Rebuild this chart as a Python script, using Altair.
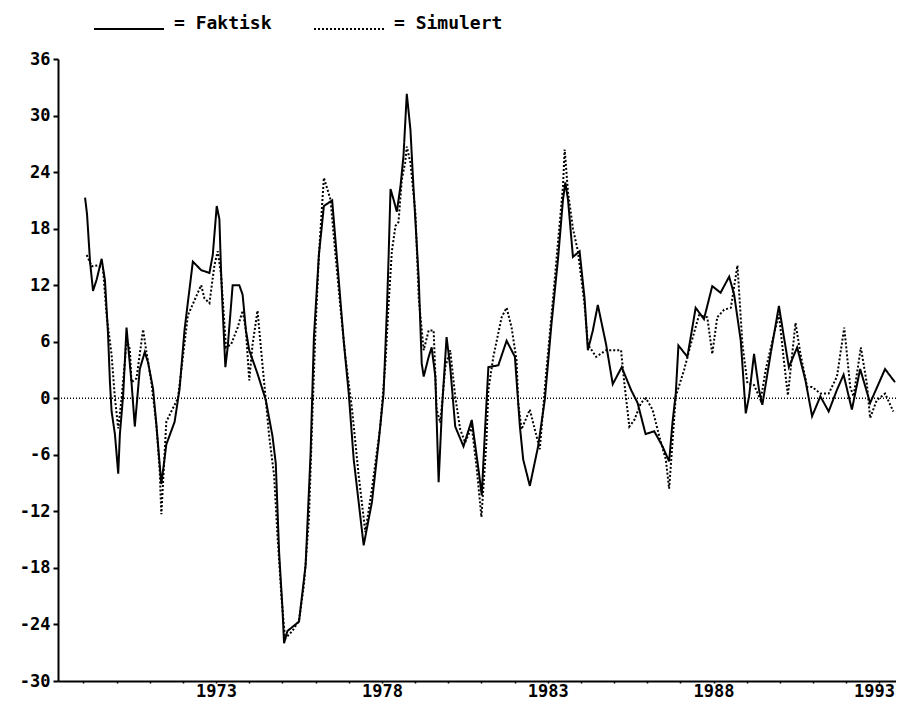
import altair as alt
import pandas as pd

# Faktisk (actual) series: decimal year and value
fakt_year = [1969.05, 1969.11, 1969.20, 1969.29, 1969.40, 1969.55, 1969.65, 1969.74, 1969.80, 1969.85,
             1969.95, 1970.05, 1970.10, 1970.20, 1970.30, 1970.45, 1970.55, 1970.70, 1970.85, 1970.95,
             1971.10, 1971.20, 1971.35, 1971.50, 1971.75, 1971.90, 1972.05, 1972.30, 1972.55, 1972.80,
             1972.90, 1973.02, 1973.10, 1973.15, 1973.20, 1973.28, 1973.35, 1973.50, 1973.70, 1973.80,
             1973.90, 1974.00, 1974.25, 1974.50, 1974.70, 1974.80, 1974.90, 1975.00, 1975.05, 1975.15,
             1975.50, 1975.70, 1975.85, 1975.95, 1976.10, 1976.25, 1976.50, 1976.70, 1976.85, 1977.00,
             1977.15, 1977.45, 1977.70, 1977.90, 1978.05, 1978.15, 1978.20, 1978.26, 1978.35, 1978.45,
             1978.56, 1978.65, 1978.75, 1978.86, 1978.95, 1979.11, 1979.20, 1979.26, 1979.41, 1979.50,
             1979.61, 1979.71, 1979.81, 1979.95, 1980.06, 1980.21, 1980.46, 1980.71, 1980.91, 1981.01,
             1981.11, 1981.21, 1981.51, 1981.76, 1982.01, 1982.16, 1982.26, 1982.46, 1982.71, 1982.91,
             1983.11, 1983.31, 1983.46, 1983.53, 1983.61, 1983.76, 1983.96, 1984.11, 1984.21, 1984.36,
             1984.51, 1984.76, 1984.96, 1985.23, 1985.51, 1985.71, 1985.95, 1986.21, 1986.46, 1986.66,
             1986.76, 1986.86, 1986.94, 1987.21, 1987.46, 1987.71, 1987.96, 1988.21, 1988.47, 1988.62,
             1988.82, 1988.97, 1989.07, 1989.22, 1989.37, 1989.47, 1989.72, 1989.97, 1990.12, 1990.27,
             1990.52, 1990.77, 1990.97, 1991.22, 1991.47, 1991.72, 1991.92, 1992.17, 1992.42, 1992.72,
             1993.17, 1993.47]
fakt_val = [21.3, 19.5, 14.5, 11.4, 12.6, 14.8, 12.5, 7.0, 1.7, -1.4,
            -3.8, -8.0, -3.8, 0.4, 7.5, 1.7, -3.0, 3.1, 4.9, 3.8,
            1.0, -2.8, -9.1, -4.9, -2.5, 1.0, 7.3, 14.5, 13.6, 13.3,
            15.2, 20.4, 19.0, 13.5, 9.3, 3.3, 5.4, 12.0, 12.0, 11.0,
            7.2, 5.1, 2.6, -0.2, -4.0, -6.9, -16.3, -22.2, -26.0, -24.7,
            -23.7, -17.7, -5.8, 6.5, 15.2, 20.4, 21.0, 12.5, 6.0, 0.5,
            -6.5, -15.6, -11.0, -4.7, 0.5, 9.3, 14.8, 22.2, 21.1, 19.8,
            22.5, 25.7, 32.3, 28.5, 22.5, 12.7, 3.7, 2.3, 4.4, 5.4,
            2.3, -8.9, -1.2, 6.5, 3.3, -3.0, -5.1, -2.3, -7.5, -10.3,
            -3.3, 3.3, 3.5, 6.1, 4.4, -3.0, -6.5, -9.3, -5.1, -0.2,
            7.8, 14.8, 21.1, 22.9, 21.1, 15.0, 15.6, 10.6, 5.1, 7.2,
            9.9, 5.7, 1.5, 3.3, 0.9, -0.5, -3.8, -3.5, -5.1, -6.7,
            -2.6, 0.5, 5.6, 4.4, 9.6, 8.4, 11.9, 11.2, 12.9, 11.0,
            6.1, -1.6, 0.2, 4.7, 0.9, -0.7, 4.7, 9.8, 6.5, 3.3,
            5.4, 1.9, -1.9, 0.2, -1.4, 0.9, 2.5, -1.2, 3.1, -0.5,
            3.1, 1.7]

# Simulert (simulated) series
sim_year = [1969.10, 1969.25, 1969.44, 1969.59, 1969.70, 1969.85, 1969.95, 1970.05, 1970.15, 1970.25,
            1970.30, 1970.40, 1970.45, 1970.60, 1970.80, 1970.90, 1971.05, 1971.20, 1971.30, 1971.35,
            1971.50, 1971.65, 1971.85, 1972.15, 1972.55, 1972.65, 1972.80, 1972.95, 1973.05, 1973.15,
            1973.30, 1973.45, 1973.65, 1973.80, 1973.90, 1974.00, 1974.10, 1974.25, 1974.35, 1974.50,
            1974.60, 1974.75, 1974.85, 1974.98, 1975.08, 1975.30, 1975.50, 1975.65, 1975.80, 1975.90,
            1976.00, 1976.10, 1976.25, 1976.45, 1976.60, 1976.75, 1976.90, 1977.10, 1977.30, 1977.50,
            1977.70, 1977.95, 1978.11, 1978.20, 1978.30, 1978.41, 1978.50, 1978.60, 1978.70, 1978.75,
            1978.86, 1979.01, 1979.11, 1979.26, 1979.41, 1979.56, 1979.65, 1979.76, 1979.91, 1980.06,
            1980.21, 1980.36, 1980.51, 1980.71, 1980.86, 1981.00, 1981.15, 1981.21, 1981.36, 1981.61,
            1981.76, 1981.91, 1982.06, 1982.11, 1982.21, 1982.46, 1982.61, 1982.76, 1982.96, 1983.16,
            1983.31, 1983.46, 1983.51, 1983.61, 1983.76, 1983.91, 1984.11, 1984.21, 1984.46, 1984.76,
            1985.21, 1985.31, 1985.46, 1985.61, 1985.81, 1985.96, 1986.16, 1986.36, 1986.56, 1986.66,
            1986.76, 1986.86, 1987.11, 1987.31, 1987.56, 1987.81, 1987.96, 1988.11, 1988.32, 1988.52,
            1988.72, 1988.87, 1989.02, 1989.22, 1989.42, 1989.57, 1989.82, 1989.97, 1990.12, 1990.24,
            1990.47, 1990.62, 1990.82, 1990.97, 1991.22, 1991.47, 1991.72, 1991.94, 1992.12, 1992.22,
            1992.44, 1992.62, 1992.72, 1992.92, 1993.17, 1993.42]
sim_val = [15.2, 14.0, 14.1, 13.8, 8.8, 4.6, 0.0, -3.2, 0.0, 3.8,
           6.3, 5.2, 1.7, 2.1, 7.3, 4.9, 1.7, -2.8, -7.7, -12.3,
           -2.5, -1.4, 0.0, 8.8, 12.0, 10.6, 10.1, 14.1, 15.6, 13.1,
           5.4, 5.7, 7.5, 9.3, 7.2, 1.9, 5.7, 9.3, 5.4, -0.2,
           -4.0, -8.2, -14.5, -21.5, -25.5, -24.7, -23.6, -19.8, -12.8, -2.3,
           7.5, 15.2, 23.4, 21.1, 15.2, 9.6, 4.4, -1.2, -8.2, -14.2,
           -9.6, -3.0, 4.0, 9.9, 15.6, 18.3, 18.7, 23.2, 25.0, 26.7,
           25.0, 19.7, 10.6, 5.1, 7.2, 7.2, -1.2, -2.6, 3.3, 5.1,
           0.2, -3.3, -4.7, -3.0, -7.5, -12.6, -4.7, 0.9, 4.4, 8.6,
           9.6, 7.5, 4.0, -0.5, -3.3, -1.2, -3.3, -5.4, 3.0, 10.6,
           16.6, 22.5, 26.4, 21.9, 18.0, 15.6, 9.9, 5.7, 4.4, 5.1,
           5.1, 1.6, -3.0, -2.3, -0.5, 0.0, -1.2, -4.0, -6.5, -9.6,
           -4.7, 0.2, 3.0, 5.7, 8.8, 8.6, 4.7, 8.6, 9.4, 9.6,
           14.1, 5.7, 1.6, 1.4, -0.2, 3.0, 6.8, 8.9, 4.0, 0.3,
           8.0, 4.7, 1.2, 1.2, 0.5, 0.5, 2.3, 7.5, 1.2, 0.2,
           5.4, 1.6, -2.1, -0.2, 0.5, -1.4]

series_names = ["Faktisk", "Simulert"]
y_ticks = [-30, -24, -18, -12, -6, 0, 6, 12, 18, 24, 30, 36]
x_ticks = list(range(1969, 1994))

df = pd.concat([
    pd.DataFrame({"year": fakt_year, "value": fakt_val, "series": series_names[0],
                  "ord": list(range(len(fakt_year)))}),
    pd.DataFrame({"year": sim_year, "value": sim_val, "series": series_names[1],
                  "ord": list(range(len(sim_year)))}),
], ignore_index=True)

FONT = "DejaVu Sans Mono"

x_enc = alt.X(
    "year:Q",
    scale=alt.Scale(domain=[1968.234, 1993.5], nice=False, zero=False),
    axis=alt.Axis(
        values=x_ticks,
        labelExpr="datum.value % 5 == 3 ? '' + datum.value : ''",
        title=None, grid=False, tickSize=2, labelPadding=0,
        labelFont=FONT, labelFontWeight="bold", labelFontSize=17, labelColor="black",
        domainColor="black", domainWidth=2, tickColor="black", tickWidth=1.5,
        labelFlush=20, labelFlushOffset=15, labelOverlap=False,
    ),
)
y_enc = alt.Y(
    "value:Q",
    scale=alt.Scale(domain=[-30, 36], nice=False, zero=False),
    axis=alt.Axis(
        values=y_ticks,
        labelExpr="'' + datum.value",
        title=None, grid=False, tickSize=5, labelPadding=3,
        labelFont=FONT, labelFontWeight="bold", labelFontSize=17, labelColor="black",
        domainColor="black", domainWidth=2, tickColor="black", tickWidth=2,
        labelFlush=False, labelOverlap=False,
    ),
)

lines = alt.Chart(df).mark_line(color="black", strokeWidth=2).encode(
    x=x_enc,
    y=y_enc,
    detail="series:N",
    order="ord:Q",
    strokeDash=alt.StrokeDash(
        "series:N",
        scale=alt.Scale(domain=series_names, range=[[1, 0], [2, 2]]),
        legend=alt.Legend(
            title=None, orient="none", legendX=35, legendY=-66,
            direction="horizontal", symbolType="stroke", symbolSize=4900,
            symbolStrokeWidth=2, symbolStrokeColor="black",
            labelFont=FONT, labelFontWeight="bold", labelFontSize=18, labelColor="black",
            labelBaseline="alphabetic",
            labelExpr="'= ' + datum.label", columnPadding=38, labelOffset=9, padding=0,
        ),
    ),
)

zero_rule = alt.Chart(pd.DataFrame({"z": [0]})).mark_rule(
    color="black", strokeWidth=1.3, strokeDash=[1, 2]
).encode(y=alt.Y("z:Q"))

chart = alt.layer(zero_rule, lines).properties(
    width=838, height=622,
    autosize=alt.AutoSizeParams(type="none"),
    padding={"left": 50, "top": 51, "right": 0, "bottom": 20},
    background="white",
).configure_view(stroke=None)

chart.save("out.html", embed_options={"renderer": "svg", "actions": False})
